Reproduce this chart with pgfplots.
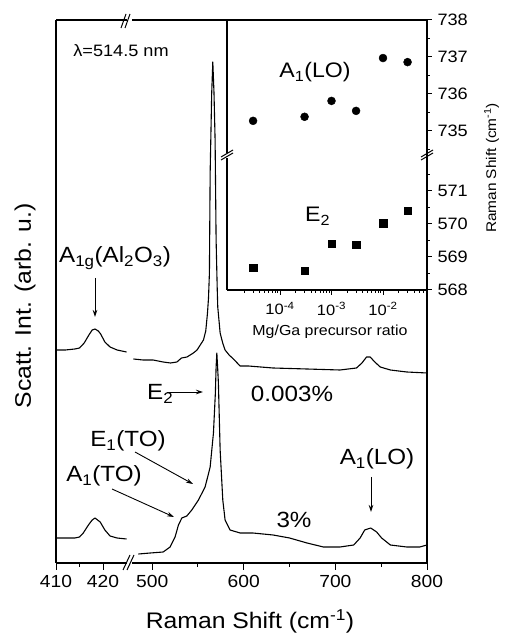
\documentclass[border=0pt]{standalone}
\usepackage{fontspec}
\setmainfont{Liberation Sans}[FakeStretch=1.1]
\usepackage{pgfplots}
\pgfplotsset{compat=1.18}
\usetikzlibrary{arrows.meta}
\newcommand{\fs}[1]{\fontsize{#1}{#1}\selectfont}

\begin{document}
\begin{tikzpicture}
\path[use as bounding box] (0pt,0pt) rectangle (505pt,637pt);
\pgfplotsset{
  mainax/.style={scale only axis, anchor=south west, height=543pt, ymin=0, ymax=543,
    enlargelimits=false, ytick=\empty, axis x line*=box, xtick pos=left,
    xtick align=outside, major tick length=7pt, minor tick length=4pt,
    axis line style={line width=1.1pt}, tick style={line width=1pt, black},
    ticklabel style={font=\fs{17.5}}, /pgf/number format/assume math mode=true,
    xticklabel style={yshift=-2pt}},
  insetax/.style={scale only axis, anchor=south west, width=200pt,
    xmin=9.35e-6, xmax=0.0715, enlargelimits=false,
    axis y line*=box, ytick pos=right, yticklabel pos=right,
    tick align=outside, major tick length=5pt, minor tick length=3pt,
    axis line style={line width=1.1pt}, tick style={line width=1pt, black},
    ticklabel style={font=\fs{16.5}}, /pgf/number format/assume math mode=true,
    yticklabel style={xshift=2pt}, clip=false},
  curve/.style={black, line width=1.1pt, line join=round}
}

% ---- main axis, left part ----
\begin{axis}[mainax, at={(56pt,74pt)}, width=70.5pt, xmin=410, xmax=425,
  axis y line*=left, xtick={410,420}, minor xtick={415}]
\addplot[curve] coordinates {
 (410,213) (412,213) (414,214) (415,215) (416,220) (417,228) (417.7,233)
 (418.3,234) (419,232) (419.5,229) (420.4,221) (421.5,216) (423,213) (425,211)};
\addplot[curve] coordinates {
 (410,25) (412,25) (414,25) (415,26) (415.8,30) (416.9,38) (417.7,43) (418.3,45)
 (419.4,41) (420.4,33) (421.5,27) (423,25) (425,24)};
\end{axis}

% ---- main axis, right part ----
\begin{axis}[mainax, at={(132pt,74pt)}, width=295pt, xmin=478, xmax=800,
  axis y line*=right, xtick={500,600,700,800}, minor xtick={550,650,750}]
\addplot[curve] coordinates {
 (479.6,204) (490,203) (501,203) (512,201) (520,200) (527,201) (532,205) (538,206)
 (545,210) (549,213) (556,223) (558.5,232) (560.4,250) (561.5,265) (562.5,290)
 (563.3,390) (565,470) (566.2,501) (567.5,470) (568.7,423) (569.8,323) (571,275)
 (571.6,256) (574.2,230) (577,220) (579.6,213) (584,208) (588.7,204) (596,197)
 (605,197) (632,195) (669,194) (705,193) (723,195) (729,200) (734,206) (738,206)
 (743,201) (749,196) (760,193) (778,191) (800,190)};
\addplot[curve] coordinates {
 (485,9) (498,10) (512,11) (519.6,16) (525,26) (528.7,38) (532.4,45) (537.8,47)
 (543.3,53) (550.5,63) (557.8,76) (563.3,96) (566.9,130) (569,170) (569.8,196)
 (570.6,210) (571.5,195) (572.3,180) (574.2,113) (577.1,63) (579.6,43) (585,33)
 (596,30) (610,30) (632,28) (650,25) (669,20) (687,16) (705,16) (720,18) (727,25)
 (732,33) (738.6,35) (745,31) (750.5,25) (760,18) (778,16) (792,16) (800,18)};
\end{axis}

% ---- inset, upper part ----
\begin{axis}[xmode=log, insetax, at={(227pt,484pt)}, height=133pt, ymin=734.4, ymax=738,
  axis x line*=top, xtick=\empty, minor xtick={},
  ytick={735,736,737,738}, minor ytick={734.5,735.5,736.5,737.5}]
\addplot[only marks, mark=*, mark size=4pt, black] coordinates {
 (3e-5,735.27) (3e-4,735.38) (1e-3,735.81) (3e-3,735.54) (1e-2,736.97) (3e-2,736.86)};
\end{axis}

% ---- inset, lower part ----
\begin{axis}[xmode=log, insetax, at={(227pt,347pt)}, height=132pt, ymin=568, ymax=572,
  axis x line*=bottom, xtick pos=left,
  xtick={1e-4,1e-3,1e-2},
  xticklabels={10\textsuperscript{-4},10\textsuperscript{-3},10\textsuperscript{-2}},
  minor xtick={2e-5,3e-5,4e-5,5e-5,6e-5,7e-5,8e-5,9e-5,2e-4,3e-4,4e-4,5e-4,6e-4,7e-4,8e-4,9e-4,
   2e-3,3e-3,4e-3,5e-3,6e-3,7e-3,8e-3,9e-3,2e-2,3e-2,4e-2,5e-2,6e-2,7e-2},
  xticklabel style={yshift=-4pt, font=\fs{15}},
  ytick={568,569,570,571}, minor ytick={568.5,569.5,570.5,571.5}]
\addplot[only marks, mark=square*, mark size=3.7pt, black] coordinates {
 (3e-5,568.68) (3e-4,568.59) (1e-3,569.41) (3e-3,569.38) (1e-2,570.03) (3e-2,570.41)};
\end{axis}

% ---- break marks ----
\begin{scope}[line width=1pt]
\draw (121pt,609pt) -- (126pt,623pt);
\draw (125pt,609pt) -- (130pt,623pt);
\draw (123pt,67pt) -- (130pt,82pt);
\draw (127pt,67pt) -- (134pt,82pt);
\draw (221pt,477pt) -- (233pt,484pt);
\draw (221pt,480pt) -- (233pt,487pt);
\draw (421pt,477pt) -- (433pt,484pt);
\draw (421pt,480pt) -- (433pt,487pt);
\end{scope}

% ---- labels ----
\tikzset{arr/.style={line width=0.9pt, -{Stealth[length=7pt,width=4.5pt]}}}
\node[anchor=base, font=\fs{22.5}] at (250pt,9pt) {Raman Shift (cm\textsuperscript{-1})};
\node[anchor=base, rotate=90, font=\fs{22.5}] at (31pt,331pt) {Scatt. Int. (arb. u.)};
\node[anchor=base, font=\fs{16.5}] at (121pt,580pt) {λ=514.5 nm};
\node[anchor=base, font=\fs{22}] at (115pt,374pt) {A\textsubscript{1g}(Al\textsubscript{2}O\textsubscript{3})};
\draw[arr] (95pt,359pt) -- (95pt,320pt);
\node[anchor=base, font=\fs{22}] at (292pt,235pt) {0.003\%};
\node[anchor=base west, font=\fs{22}, inner sep=0pt] at (147pt,237pt) {E\textsubscript{2}};
\draw[arr] (167pt,245pt) -- (203pt,245pt);
\node[anchor=base, font=\fs{22}] at (128pt,190pt) {E\textsubscript{1}(TO)};
\draw[arr] (135pt,185pt) -- (193pt,153pt);
\node[anchor=base, font=\fs{22}] at (104pt,155pt) {A\textsubscript{1}(TO)};
\draw[arr] (112pt,148pt) -- (174pt,120pt);
\node[anchor=base, font=\fs{22}] at (294pt,109pt) {3\%};
\node[anchor=base, font=\fs{22}] at (377pt,172pt) {A\textsubscript{1}(LO)};
\draw[arr] (371pt,160pt) -- (371pt,125pt);
\node[anchor=base, font=\fs{21}] at (315pt,559pt) {A\textsubscript{1}(LO)};
\node[anchor=base west, font=\fs{21}, inner sep=0pt] at (305pt,415pt) {E\textsubscript{2}};
\node[anchor=base, font=\fs{14.5}] at (330pt,301pt) {Mg/Ga precursor ratio};
\node[anchor=base, rotate=90, font=\fs{14}] at (496pt,469pt) {Raman Shift (cm\textsuperscript{-1})};
\end{tikzpicture}
\end{document}
